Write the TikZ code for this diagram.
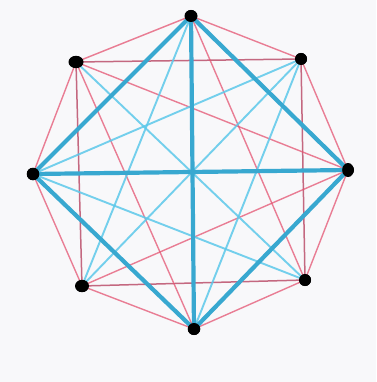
\documentclass[tikz,border=0pt]{standalone}
\definecolor{bg}{HTML}{F8F8FA}
\definecolor{redl}{HTML}{E45472}
\definecolor{redd}{HTML}{B84462}
\definecolor{bluet}{HTML}{38A8D0}
\definecolor{bluel}{HTML}{5CC8EA}
\begin{document}
\begin{tikzpicture}[x=1pt,y=-1pt,
  vtx/.style={circle,fill=black,inner sep=0pt,minimum size=12pt},
  redline/.style={draw=redl,line width=1.4pt,opacity=0.75},
  reddark/.style={draw=redd,line width=1.5pt,opacity=0.8},
  lightblue/.style={draw=bluel,line width=1.9pt,opacity=0.85},
  thickblue/.style={draw=bluet,line width=4.2pt}]
\fill[bg] (0,0) rectangle (376,382);
\useasboundingbox (0,0) rectangle (376,382);
\node[vtx] (T) at (191,16) {};
\node[vtx] (UR) at (301,59) {};
\node[vtx] (R) at (348,170) {};
\node[vtx] (LR) at (305,280) {};
\node[vtx] (B) at (194,329) {};
\node[vtx] (LL) at (82,286) {};
\node[vtx] (L) at (33,174) {};
\node[vtx] (UL) at (76,62) {};
% red edges: octagon
\path[redline] (T.center) -- (UR.center) -- (R.center) -- (LR.center) -- (B.center) -- (LL.center) -- (L.center) -- (UL.center) -- cycle;
% red square
\path[reddark] (UL.center) -- (UR.center) -- (LR.center) -- (LL.center) -- cycle;
% other red chords
\path[redline] (UL.center) -- (R.center);
\path[redline] (UL.center) -- (B.center);
\path[redline] (T.center) -- (LR.center);
\path[redline] (R.center) -- (LL.center);
% light blue chords
\path[lightblue] (UL.center) -- (LR.center);
\path[lightblue] (UR.center) -- (LL.center);
\path[lightblue] (UR.center) -- (L.center);
\path[lightblue] (UR.center) -- (B.center);
\path[lightblue] (LL.center) -- (T.center);
\path[lightblue] (LR.center) -- (L.center);
% thick blue
\path[thickblue] (T.center) -- (R.center) -- (B.center) -- (L.center) -- cycle;
\path[thickblue] (T.center) -- (B.center);
\path[thickblue] (L.center) -- (R.center);
% vertices on top
\fill[black] (T) ellipse [x radius=6.5pt, y radius=6pt];
\fill[black] (UR) ellipse [x radius=6pt, y radius=6pt];
\fill[black] (R) ellipse [x radius=5.8pt, y radius=7pt];
\fill[black] (LR) ellipse [x radius=6pt, y radius=6pt];
\fill[black] (B) ellipse [x radius=6.3pt, y radius=6pt];
\fill[black] (LL) ellipse [x radius=7pt, y radius=6.2pt];
\fill[black] (L) ellipse [x radius=6.3pt, y radius=6.3pt];
\fill[black] (UL) ellipse [x radius=7.5pt, y radius=6.2pt];
\end{tikzpicture}
\end{document}
